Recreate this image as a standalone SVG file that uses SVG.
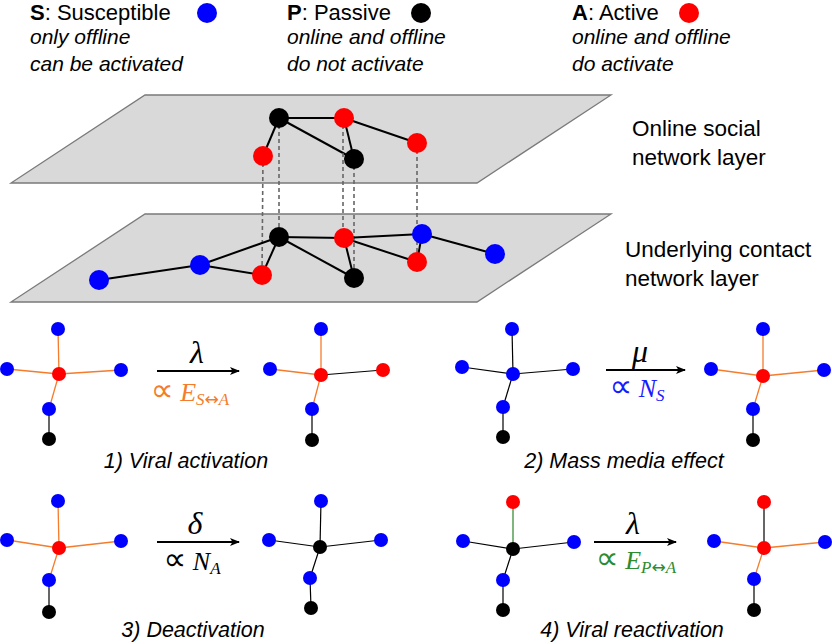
<svg xmlns="http://www.w3.org/2000/svg" width="832" height="644" viewBox="0 0 832 644">
<defs>
<marker id="ah" markerWidth="10" markerHeight="8" refX="9" refY="4" orient="auto" markerUnits="userSpaceOnUse"><path d="M0,0 L10,4 L0,8 L2.5,4 Z" fill="#000"/></marker>
</defs>
<style>
.hd{font-family:"Liberation Sans",Arial,sans-serif;font-size:22px;fill:#000}
.it{font-family:"Liberation Sans",Arial,sans-serif;font-size:21px;font-style:italic;fill:#000}
.lb{font-family:"Liberation Sans",Arial,sans-serif;font-size:22.5px;fill:#000}
.cap{font-family:"Liberation Sans",Arial,sans-serif;font-size:21.5px;font-style:italic;fill:#000;text-anchor:middle}
.gr{font-family:"Liberation Serif","DejaVu Serif",serif;font-size:32px;font-style:italic;text-anchor:middle;fill:#000}
.mt{font-family:"Liberation Serif","DejaVu Serif",serif;font-size:26px;text-anchor:middle}
.pr{font-family:"DejaVu Sans",sans-serif;font-size:32px;font-style:normal}
.ra{font-family:"DejaVu Sans",sans-serif;font-size:17px;font-style:normal}
.plane{fill:#d9d9d9;stroke:#7a7a7a;stroke-width:1.3}
.le{stroke:#000;stroke-width:2;fill:none}
.dl{stroke:#666;stroke-width:1.6;stroke-dasharray:4,3;fill:none}
.e{stroke:#000;stroke-width:1.2;fill:none}
.o{stroke:#f47c2c;stroke-width:1.3;fill:none}
.g{stroke:#3a8f3a;stroke-width:1.3;fill:none}
.ar{stroke:#000;stroke-width:2;fill:none}
.S{fill:#0000ff}.A{fill:#ff0000}.P{fill:#000}
</style>

<!-- legend -->
<g id="legend">
<text class="hd" x="30" y="20"><tspan font-weight="bold">S</tspan>: Susceptible</text>
<circle class="S" cx="207" cy="13" r="10"/>
<text class="it" x="30" y="44">only offline</text>
<text class="it" x="30" y="71">can be activated</text>
<text class="hd" x="287" y="20"><tspan font-weight="bold">P</tspan>: Passive</text>
<circle class="P" cx="421" cy="13" r="10"/>
<text class="it" x="287" y="44">online and offline</text>
<text class="it" x="287" y="71">do not activate</text>
<text class="hd" x="572" y="20"><tspan font-weight="bold">A</tspan>: Active</text>
<circle class="A" cx="689" cy="13" r="10"/>
<text class="it" x="572" y="44">online and offline</text>
<text class="it" x="572" y="71">do activate</text>
</g>

<!-- planes -->
<g id="online-layer"><polygon class="plane" points="145,95 611,95 477,183 11,183"/></g>
<g id="contact-layer"><polygon class="plane" points="145,214 611,214 477,302 11,302"/></g>
<text class="lb" x="632" y="136">Online social</text>
<text class="lb" x="632" y="165">network layer</text>
<text class="lb" x="625" y="257">Underlying contact</text>
<text class="lb" x="625" y="286">network layer</text>

<!-- connectors -->
<g id="connectors">
<line class="le" x1="279" y1="118" x2="344" y2="118"/>
<line class="le" x1="279" y1="118" x2="263" y2="156"/>
<line class="le" x1="279" y1="118" x2="354" y2="159"/>
<line class="le" x1="344" y1="118" x2="354" y2="159"/>
<line class="le" x1="344" y1="118" x2="417" y2="143"/>
<line class="dl" x1="263" y1="156" x2="262" y2="275"/>
<line class="dl" x1="279" y1="118" x2="279" y2="237"/>
<line class="dl" x1="343" y1="118" x2="343" y2="238"/>
<line class="dl" x1="354" y1="159" x2="354" y2="278"/>
<line class="dl" x1="417" y1="143" x2="417" y2="262"/>
<line class="le" x1="99" y1="280" x2="200" y2="265"/>
<line class="le" x1="200" y1="265" x2="279" y2="237"/>
<line class="le" x1="200" y1="265" x2="262" y2="275"/>
<line class="le" x1="279" y1="237" x2="262" y2="275"/>
<line class="le" x1="279" y1="237" x2="344" y2="238"/>
<line class="le" x1="279" y1="237" x2="354" y2="278"/>
<line class="le" x1="344" y1="238" x2="422" y2="234"/>
<line class="le" x1="344" y1="238" x2="354" y2="278"/>
<line class="le" x1="344" y1="238" x2="417" y2="262"/>
<line class="le" x1="422" y1="234" x2="495" y2="254"/>
<line class="le" x1="422" y1="234" x2="417" y2="262"/>

<line class="o" x1="59" y1="374" x2="58" y2="329"/>
<line class="o" x1="59" y1="374" x2="7" y2="369"/>
<line class="o" x1="59" y1="374" x2="121" y2="370"/>
<line class="o" x1="59" y1="374" x2="49" y2="409"/>
<line class="e" x1="49" y1="409" x2="49" y2="439"/>
<line class="ar" x1="157" y1="371" x2="239" y2="371" marker-end="url(#ah)"/>
<line class="o" x1="321" y1="375" x2="321" y2="329"/>
<line class="o" x1="321" y1="375" x2="270" y2="369"/>
<line class="e" x1="321" y1="375" x2="383" y2="370"/>
<line class="o" x1="321" y1="375" x2="312" y2="409"/>
<line class="e" x1="312" y1="409" x2="312" y2="440"/>

<line class="e" x1="513" y1="374" x2="512" y2="329"/>
<line class="e" x1="513" y1="374" x2="462" y2="367"/>
<line class="e" x1="513" y1="374" x2="573" y2="369"/>
<line class="e" x1="513" y1="374" x2="503" y2="407"/>
<line class="e" x1="503" y1="407" x2="503" y2="437"/>
<line class="ar" x1="606" y1="370" x2="685" y2="370" marker-end="url(#ah)"/>
<line class="o" x1="763" y1="376" x2="763" y2="329"/>
<line class="o" x1="763" y1="376" x2="711" y2="369"/>
<line class="o" x1="763" y1="376" x2="824" y2="370"/>
<line class="o" x1="763" y1="376" x2="753" y2="409"/>
<line class="e" x1="753" y1="409" x2="753" y2="440"/>

<line class="o" x1="59" y1="548" x2="58" y2="501"/>
<line class="o" x1="59" y1="548" x2="7" y2="540"/>
<line class="o" x1="59" y1="548" x2="121" y2="541"/>
<line class="o" x1="59" y1="548" x2="49" y2="580"/>
<line class="e" x1="49" y1="580" x2="49" y2="612"/>
<line class="ar" x1="157" y1="542" x2="239" y2="542" marker-end="url(#ah)"/>
<line class="e" x1="320" y1="547" x2="321" y2="501"/>
<line class="e" x1="320" y1="547" x2="269" y2="540"/>
<line class="e" x1="320" y1="547" x2="381" y2="540"/>
<line class="e" x1="320" y1="547" x2="310" y2="578"/>
<line class="e" x1="310" y1="578" x2="311" y2="608"/>

<line class="g" x1="513" y1="549" x2="513" y2="502"/>
<line class="e" x1="513" y1="549" x2="463" y2="541"/>
<line class="e" x1="513" y1="549" x2="574" y2="542"/>
<line class="e" x1="513" y1="549" x2="503" y2="580"/>
<line class="e" x1="503" y1="580" x2="503" y2="610"/>
<line class="ar" x1="594" y1="542" x2="676" y2="542" marker-end="url(#ah)"/>
<line class="e" x1="764" y1="548" x2="764" y2="502"/>
<line class="o" x1="764" y1="548" x2="714" y2="541"/>
<line class="o" x1="764" y1="548" x2="825" y2="542"/>
<line class="o" x1="764" y1="548" x2="754" y2="579"/>
<line class="e" x1="754" y1="579" x2="754" y2="610"/>
</g>

<g id="on1"><circle class="P" cx="279" cy="118" r="10"/></g>
<g id="on2"><circle class="A" cx="344" cy="118" r="10"/></g>
<g id="on3"><circle class="A" cx="263" cy="156" r="10"/></g>
<g id="on4"><circle class="P" cx="354" cy="159" r="10"/></g>
<g id="on5"><circle class="A" cx="417" cy="143" r="10"/></g>
<g id="c1"><circle class="S" cx="99" cy="280" r="10"/></g>
<g id="c2"><circle class="S" cx="200" cy="265" r="10"/></g>
<g id="c3"><circle class="P" cx="279" cy="237" r="10"/></g>
<g id="c4"><circle class="A" cx="262" cy="275" r="10"/></g>
<g id="c5"><circle class="A" cx="344" cy="238" r="10"/></g>
<g id="c6"><circle class="P" cx="354" cy="278" r="10"/></g>
<g id="c7"><circle class="A" cx="417" cy="262" r="10"/></g>
<g id="c8"><circle class="S" cx="422" cy="234" r="10"/></g>
<g id="c9"><circle class="S" cx="495" cy="254" r="10"/></g>

<g id="p1a-c"><circle class="A" cx="59" cy="374" r="7"/></g>
<g id="p1a-u"><circle class="S" cx="58" cy="329" r="7"/></g>
<g id="p1a-l"><circle class="S" cx="7" cy="369" r="7"/></g>
<g id="p1a-r"><circle class="S" cx="121" cy="370" r="7"/></g>
<g id="p1a-d"><circle class="S" cx="49" cy="409" r="7"/></g>
<g id="p1a-b"><circle class="P" cx="49" cy="439" r="7"/></g>
<g id="p1b-c"><circle class="A" cx="321" cy="375" r="7"/></g>
<g id="p1b-u"><circle class="S" cx="321" cy="329" r="7"/></g>
<g id="p1b-l"><circle class="S" cx="270" cy="369" r="7"/></g>
<g id="p1b-r"><circle class="A" cx="383" cy="370" r="7"/></g>
<g id="p1b-d"><circle class="S" cx="312" cy="409" r="7"/></g>
<g id="p1b-b"><circle class="P" cx="312" cy="440" r="7"/></g>
<text class="gr" x="197" y="363">λ</text>
<text class="mt" x="190" y="401" fill="#f47c2c"><tspan class="pr">∝</tspan> <tspan font-style="italic">E</tspan><tspan font-size="17" dy="4" font-style="italic">S</tspan><tspan class="ra">↔</tspan><tspan font-size="17" font-style="italic">A</tspan></text>
<text class="cap" x="186" y="468">1) Viral activation</text>

<g id="p2a-c"><circle class="S" cx="513" cy="374" r="7"/></g>
<g id="p2a-u"><circle class="S" cx="512" cy="329" r="7"/></g>
<g id="p2a-l"><circle class="S" cx="462" cy="367" r="7"/></g>
<g id="p2a-r"><circle class="S" cx="573" cy="369" r="7"/></g>
<g id="p2a-d"><circle class="S" cx="503" cy="407" r="7"/></g>
<g id="p2a-b"><circle class="P" cx="503" cy="437" r="7"/></g>
<g id="p2b-c"><circle class="A" cx="763" cy="376" r="7"/></g>
<g id="p2b-u"><circle class="S" cx="763" cy="329" r="7"/></g>
<g id="p2b-l"><circle class="S" cx="711" cy="369" r="7"/></g>
<g id="p2b-r"><circle class="S" cx="824" cy="370" r="7"/></g>
<g id="p2b-d"><circle class="S" cx="753" cy="409" r="7"/></g>
<g id="p2b-b"><circle class="P" cx="753" cy="440" r="7"/></g>
<text class="gr" x="640" y="362">μ</text>
<text class="mt" x="637" y="397" fill="#1a1aff"><tspan class="pr">∝</tspan> <tspan font-style="italic">N</tspan><tspan font-size="17" dy="4" font-style="italic">S</tspan></text>
<text class="cap" x="624" y="468">2) Mass media effect</text>

<g id="p3a-c"><circle class="A" cx="59" cy="548" r="7"/></g>
<g id="p3a-u"><circle class="S" cx="58" cy="501" r="7"/></g>
<g id="p3a-l"><circle class="S" cx="7" cy="540" r="7"/></g>
<g id="p3a-r"><circle class="S" cx="121" cy="541" r="7"/></g>
<g id="p3a-d"><circle class="S" cx="49" cy="580" r="7"/></g>
<g id="p3a-b"><circle class="P" cx="49" cy="612" r="7"/></g>
<g id="p3b-c"><circle class="P" cx="320" cy="547" r="7"/></g>
<g id="p3b-u"><circle class="S" cx="321" cy="501" r="7"/></g>
<g id="p3b-l"><circle class="S" cx="269" cy="540" r="7"/></g>
<g id="p3b-r"><circle class="S" cx="381" cy="540" r="7"/></g>
<g id="p3b-d"><circle class="S" cx="310" cy="578" r="7"/></g>
<g id="p3b-b"><circle class="P" cx="311" cy="608" r="7"/></g>
<text class="gr" x="195" y="534">δ</text>
<text class="mt" x="192" y="570" fill="#000"><tspan class="pr">∝</tspan> <tspan font-style="italic">N</tspan><tspan font-size="17" dy="4" font-style="italic">A</tspan></text>
<text class="cap" x="193" y="637">3) Deactivation</text>

<g id="p4a-c"><circle class="P" cx="513" cy="549" r="7"/></g>
<g id="p4a-u"><circle class="A" cx="513" cy="502" r="7"/></g>
<g id="p4a-l"><circle class="S" cx="463" cy="541" r="7"/></g>
<g id="p4a-r"><circle class="S" cx="574" cy="542" r="7"/></g>
<g id="p4a-d"><circle class="S" cx="503" cy="580" r="7"/></g>
<g id="p4a-b"><circle class="P" cx="503" cy="610" r="7"/></g>
<g id="p4b-c"><circle class="A" cx="764" cy="548" r="7"/></g>
<g id="p4b-u"><circle class="A" cx="764" cy="502" r="7"/></g>
<g id="p4b-l"><circle class="S" cx="714" cy="541" r="7"/></g>
<g id="p4b-r"><circle class="S" cx="825" cy="542" r="7"/></g>
<g id="p4b-d"><circle class="S" cx="754" cy="579" r="7"/></g>
<g id="p4b-b"><circle class="P" cx="754" cy="610" r="7"/></g>
<text class="gr" x="633" y="534">λ</text>
<text class="mt" x="636" y="569" fill="#2e8b2e"><tspan class="pr">∝</tspan> <tspan font-style="italic">E</tspan><tspan font-size="17" dy="4" font-style="italic">P</tspan><tspan class="ra">↔</tspan><tspan font-size="17" font-style="italic">A</tspan></text>
<text class="cap" x="632" y="637">4) Viral reactivation</text>
</svg>
